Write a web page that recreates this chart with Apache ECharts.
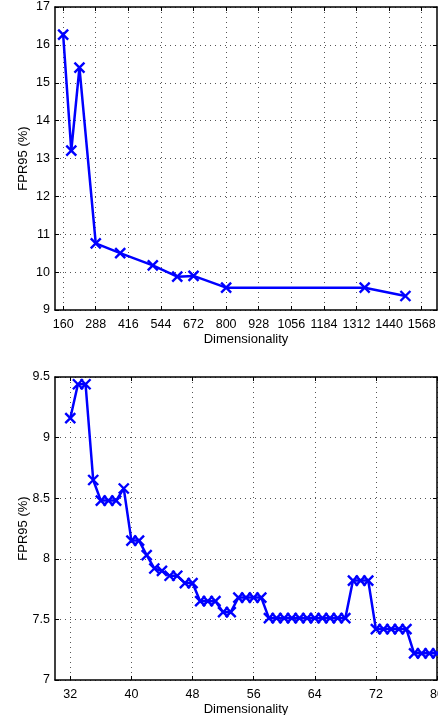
<!DOCTYPE html>
<html>
<head>
<meta charset="utf-8">
<script src="https://cdn.jsdelivr.net/npm/echarts@6/dist/echarts.min.js"></script>
<style>
  html, body { margin: 0; padding: 0; background: #fff; }
  #chart { width: 438px; height: 715px; }
</style>
</head>
<body>
<div id="chart"></div>
<script>
// top panel: coarse sweep
const dimsTop = [160, 192, 224, 288, 384, 512, 608, 672, 800, 1344, 1504];
const fprTop = [16.27, 13.21, 15.4, 10.76, 10.5, 10.18, 9.88, 9.9, 9.59, 9.59, 9.37];
const ticksTop = [160, 288, 416, 544, 672, 800, 928, 1056, 1184, 1312, 1440, 1568];

// bottom panel: fine sweep
const dimsBottom = [32, 33, 34, 35, 36, 37, 38, 39, 40, 41, 42, 43, 44, 45, 46, 47, 48,
  49, 50, 51, 52, 53, 54, 55, 56, 57, 58, 59, 60, 61, 62, 63, 64, 65, 66, 67, 68,
  69, 70, 71, 72, 73, 74, 75, 76, 77, 78, 79, 80];
const fprBottom = [9.16, 9.44, 9.44, 8.65, 8.48, 8.48, 8.48, 8.58, 8.15, 8.15, 8.03, 7.92, 7.9, 7.86, 7.86, 7.8, 7.8,
  7.65, 7.65, 7.65, 7.56, 7.56, 7.68, 7.68, 7.68, 7.68, 7.51, 7.51, 7.51, 7.51, 7.51, 7.51, 7.51, 7.51, 7.51, 7.51, 7.51,
  7.82, 7.82, 7.82, 7.42, 7.42, 7.42, 7.42, 7.42, 7.22, 7.22, 7.22, 7.22];
const ticksBottom = [32, 40, 48, 56, 64, 72, 80];

const FONT = "'Liberation Sans', Arial, Helvetica, sans-serif";
const BLUE = "#0000ff";
const CROSS = "path://M0,0 L10,10 M10,0 L0,10";
const gridDots = { color: "#555", type: [1, 4], width: 1 };

const chart = echarts.init(document.getElementById("chart"), null, { renderer: "canvas" });

function xAxisPair(gridIndex, min, max, ticks) {
  const main = {
    type: "value",
    gridIndex: gridIndex,
    position: "bottom",
    min: min,
    max: max,
    name: "Dimensionality",
    nameLocation: "middle",
    nameGap: 23,
    nameMoveOverlap: false,
    nameTextStyle: { fontFamily: FONT, fontSize: 13, color: "#000" },
    axisLine: { show: true, onZero: false, lineStyle: { color: "#000", width: 1.5 } },
    axisTick: { show: true, inside: true, length: 4, customValues: ticks, lineStyle: { color: "#000" } },
    axisLabel: {
      customValues: ticks, margin: 8, fontFamily: FONT, fontSize: 12.5, color: "#000", hideOverlap: false,
      formatter: (v) => String(v),
    },
    splitLine: { show: true, lineStyle: gridDots },
  };
  const top = {
    type: "value",
    gridIndex: gridIndex,
    position: "top",
    min: min,
    max: max,
    axisLine: { show: true, onZero: false, lineStyle: { color: "#000", width: 1.5 } },
    axisTick: { show: true, inside: true, length: 4, customValues: ticks, lineStyle: { color: "#000" } },
    axisLabel: { show: false },
    splitLine: { show: false },
  };
  return [main, top];
}

function yAxisPair(gridIndex, min, max, interval) {
  const main = {
    type: "value",
    gridIndex: gridIndex,
    position: "left",
    min: min,
    max: max,
    interval: interval,
    name: "FPR95 (%)",
    nameLocation: "middle",
    nameGap: 25,
    nameMoveOverlap: false,
    nameTextStyle: { fontFamily: FONT, fontSize: 13, color: "#000" },
    axisLine: { show: true, onZero: false, lineStyle: { color: "#000", width: 1.5 } },
    axisTick: { show: true, inside: true, length: 4, lineStyle: { color: "#000" } },
    axisLabel: { margin: 5, fontFamily: FONT, fontSize: 12.5, color: "#000", formatter: (v) => String(v) },
    splitLine: { show: true, lineStyle: gridDots },
  };
  const right = {
    type: "value",
    gridIndex: gridIndex,
    position: "right",
    min: min,
    max: max,
    interval: interval,
    axisLine: { show: true, onZero: false, lineStyle: { color: "#000", width: 1.5 } },
    axisTick: { show: true, inside: true, length: 4, lineStyle: { color: "#000" } },
    axisLabel: { show: false },
    splitLine: { show: false },
  };
  return [main, right];
}

function lineSeries(xIdx, yIdx, xs, ys) {
  return {
    type: "line",
    xAxisIndex: xIdx,
    yAxisIndex: yIdx,
    data: xs.map((x, i) => [x, ys[i]]),
    symbol: CROSS,
    symbolSize: 10,
    showSymbol: true,
    showAllSymbol: true,
    animation: false,
    lineStyle: { color: BLUE, width: 2.5 },
    itemStyle: { color: BLUE, borderColor: BLUE, borderWidth: 2.4 },
    emphasis: { disabled: true },
  };
}

chart.setOption({
  backgroundColor: "#fff",
  animation: false,
  grid: [
    { left: 55, right: 1, top: 7, height: 303, outerBoundsMode: "none", containLabel: false },
    { left: 55, right: 1, top: 377, height: 303, outerBoundsMode: "none", containLabel: false },
  ],
  xAxis: [
    ...xAxisPair(0, 128, 1628, ticksTop),
    ...xAxisPair(1, 30, 80, ticksBottom),
  ],
  yAxis: [
    ...yAxisPair(0, 9, 17, 1),
    ...yAxisPair(1, 7, 9.5, 0.5),
  ],
  series: [
    lineSeries(0, 0, dimsTop, fprTop),
    lineSeries(2, 2, dimsBottom, fprBottom),
  ],
});
</script>
</body>
</html>
